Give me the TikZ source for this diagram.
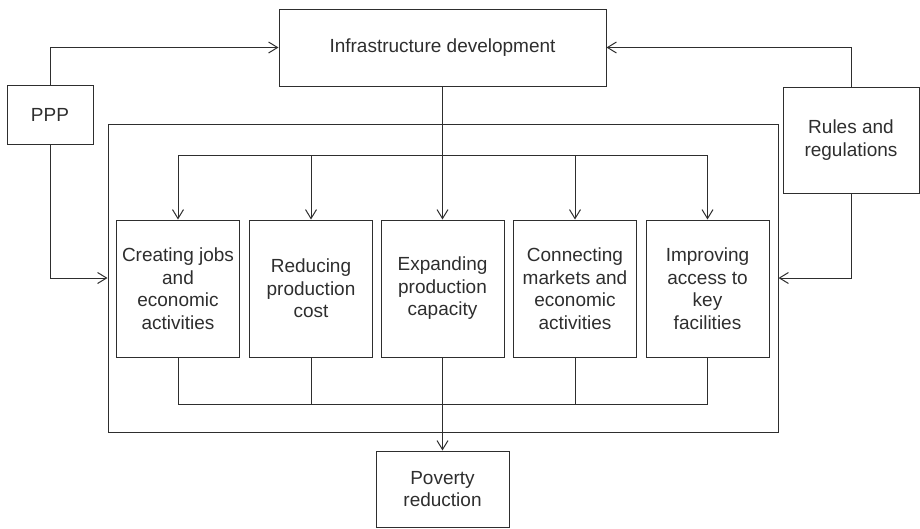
\documentclass[tikz,border=0pt]{standalone}
\usepackage{fontspec}
\setmainfont{Liberation Sans}
\usetikzlibrary{arrows.meta}

\tikzset{
    box/.style={draw, line width=1pt, align=center, inner sep=0pt,
        font=\fontsize{19}{22.5}\selectfont},
    effect/.style={box, minimum width=123pt, minimum height=137pt},
    link/.style={line width=1pt},
    flow/.style={link, -{Straight Barb[length=9pt, width=11pt]}}
}

\begin{document}
\begin{tikzpicture}[x=1pt, y=-1pt, color=black!82]
    \useasboundingbox (0, 0) rectangle (920, 528);
    % Outer blocks
    \node [box, minimum width=327pt, minimum height=77pt] (infra) at (442.5, 47.5) {Infrastructure development};
    \node [box, minimum width=86pt, minimum height=59pt] (ppp) at (50, 114.5) {PPP};
    \node [box, minimum width=136pt, minimum height=106pt] (rules) at (851, 140) {Rules and\\regulations};
    \node [draw, line width=1pt, minimum width=670pt, minimum height=308pt] (frame) at (443, 278) {};
    \node [box, minimum width=133pt, minimum height=76pt] (poverty) at (442.5, 489) {Poverty\\reduction};
    % Effects inside the frame
    \node [effect] (creating) at (178, 288.5) {Creating jobs\\and\\economic\\activities};
    \node [effect] (reducing) at (311, 288.5) {Reducing\\production\\cost};
    \node [effect] (expanding) at (442.5, 288.5) {Expanding\\production\\capacity};
    \node [effect] (connecting) at (575, 288.5) {Connecting\\markets and\\economic\\activities};
    \node [effect] (improving) at (707.5, 288.5) {Improving\\access to\\key\\facilities};
    \coordinate (split) at (0, 155);
    \coordinate (merge) at (0, 404);
    % Inputs
    \draw [flow] (ppp.north) |- (infra.west);
    \draw [flow] (rules.north) |- (infra.east);
    \draw [flow] (ppp.south) |- (frame.west);
    \draw [flow] (rules.south) |- (frame.east);
    % Distribution
    \draw [flow] (infra.south) -- (expanding.north);
    \draw [link] (creating.north |- split) -- (improving.north |- split);
    \foreach \n in {creating, reducing, connecting, improving}
        \draw [flow] (\n.north |- split) -- (\n.north);
    % Collection
    \draw [link] (creating.south) -- (creating.south |- merge) -- (improving.south |- merge) -- (improving.south);
    \foreach \n in {reducing, connecting}
        \draw [link] (\n.south) -- (\n.south |- merge);
    \draw [flow] (expanding.south) -- (poverty.north);
\end{tikzpicture}
\end{document}
